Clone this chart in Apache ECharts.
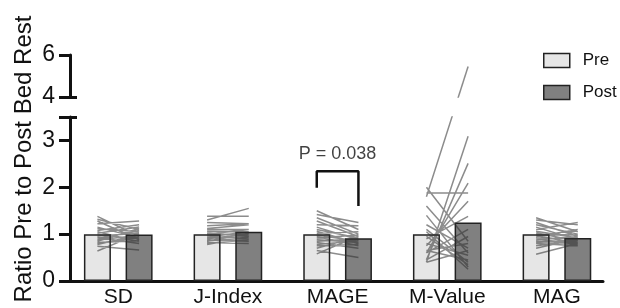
<!DOCTYPE html>
<html><head><meta charset="utf-8">
<script src="https://cdn.jsdelivr.net/npm/echarts@6/dist/echarts.min.js"></script>
<style>html,body{margin:0;padding:0;background:#fff}#c{width:620px;height:308px}</style>
</head><body><div id="c"></div>
<script>
// ---------- data ----------
const categories = ['SD', 'J-Index', 'MAGE', 'M-Value', 'MAG'];
const seriesNames = ['Pre', 'Post'];
const barPre  = [1.00, 1.00, 1.00, 1.00, 1.00];
const barPost = [0.99, 1.05, 0.91, 1.25, 0.92];

const sdPre    = [1.38, 1.32, 1.28, 1.22, 1.15, 1.12, 1.08, 1.05, 1.02, 0.98, 0.96, 0.93, 0.90, 0.88, 0.85, 0.82, 0.80, 0.78, 0.74, 0.64];
const sdPost   = [0.95, 1.10, 0.88, 1.28, 0.92, 1.05, 1.20, 0.84, 1.15, 0.90, 1.02, 0.80, 1.08, 0.97, 1.12, 0.86, 0.94, 0.99, 0.66, 1.01];
const jPre     = [1.38, 1.30, 1.25, 1.18, 1.12, 1.10, 1.06, 1.03, 1.00, 0.98, 0.96, 0.94, 0.92, 0.90, 0.88, 0.86, 0.85, 0.82, 0.80, 0.78];
const jPost    = [1.38, 1.55, 1.22, 1.22, 1.20, 1.10, 1.05, 0.95, 1.10, 1.00, 0.90, 1.05, 0.98, 1.00, 0.85, 0.92, 1.02, 0.80, 0.88, 0.95];
const magePre  = [1.50, 1.42, 1.35, 1.28, 1.20, 1.15, 1.10, 1.06, 1.02, 0.98, 0.95, 0.92, 0.88, 0.85, 0.82, 0.78, 0.75, 0.70, 0.65, 0.58];
const magePost = [1.10, 1.25, 1.00, 0.95, 1.18, 0.88, 0.92, 0.80, 1.05, 0.85, 0.75, 0.98, 0.82, 0.90, 0.70, 0.86, 0.78, 0.95, 0.50, 0.96];
const mPre     = [1.80, 0.40, 0.45, 1.88, 2.00, 0.60, 1.60, 0.75, 1.10, 0.90, 0.60, 1.40, 0.45, 0.80, 1.20, 0.65, 0.65, 0.95, 1.05, 0.40];
const mPost    = [5.45, 3.09, 2.51, 1.88, 0.85, 2.09, 0.60, 1.70, 0.40, 1.38, 1.10, 0.30, 0.95, 0.55, 0.70, 0.45, 0.80, 0.35, 0.25, 0.65];
const magPre   = [1.35, 1.30, 1.25, 1.20, 1.15, 1.10, 1.06, 1.03, 1.00, 0.97, 0.95, 0.92, 0.90, 0.88, 0.85, 0.82, 0.80, 0.75, 0.70, 0.57];
const magPost  = [1.05, 1.20, 0.95, 1.00, 0.88, 1.25, 0.92, 0.85, 0.98, 0.80, 1.10, 0.90, 0.78, 0.95, 0.82, 0.88, 0.75, 0.86, 0.90, 0.80];
const subjPre  = [sdPre, jPre, magePre, mPre, magPre];
const subjPost = [sdPost, jPost, magePost, mPost, magPost];

const lowerTicks = [0, 1, 2, 3];
const upperTicks = [4, 6];
const lowerRange = [0, 3.5];
const upperRange = [4, 6];

const pCategory = 2;
const pLabel = 'P = 0.038';
const pBracketTop = 2.34, pBracketLeft = 1.99, pBracketRight = 1.60, pLabelY = 2.71;

// ---------- layout ----------
const OFF = 0.19;              // half distance between pre/post bars (category units)
const X_MIN = -0.44, X_MAX = 4.42;
const AX = '#111';
const FONT = 'Liberation Sans, Arial, Helvetica, sans-serif';
const LINE_COLOR = 'rgba(45,45,45,0.55)';

const chart = echarts.init(document.getElementById('c'), null, {renderer: 'canvas'});

const xBase = {type: 'value', min: X_MIN, max: X_MAX};
const option = {
  animation: false,
  backgroundColor: '#fff',
  grid: [
    {left: 70, right: 17, top: 117, bottom: 26},
    {left: 70, right: 17, top: 55, height: 42}
  ],
  xAxis: [
    Object.assign({}, xBase, {gridIndex: 0, position: 'bottom',
      axisLine: {show: true, onZero: false, lineStyle: {color: AX, width: 3}},
      axisTick: {show: false}, splitLine: {show: false},
      axisLabel: {customValues: [0, 1, 2, 3, 4], formatter: v => categories[Math.round(v)],
        fontSize: 21, color: '#111', fontFamily: FONT, margin: 6}}),
    Object.assign({}, xBase, {gridIndex: 1, show: false})
  ],
  yAxis: [
    {type: 'value', gridIndex: 0, min: lowerRange[0], max: lowerRange[1], position: 'left',
      axisLine: {show: true, onZero: false, lineStyle: {color: AX, width: 3}},
      axisTick: {show: true, length: 11, customValues: lowerTicks.concat([lowerRange[1]]), lineStyle: {color: AX, width: 3}},
      axisLabel: {customValues: lowerTicks, fontSize: 23, color: '#111', fontFamily: FONT, margin: 15},
      splitLine: {show: false}},
    {type: 'value', gridIndex: 0, min: lowerRange[0], max: lowerRange[1], position: 'left',
      axisLine: {show: false, onZero: false},
      axisTick: {show: true, inside: true, length: 7, customValues: [lowerRange[1]], lineStyle: {color: AX, width: 3}},
      axisLabel: {show: false}, splitLine: {show: false}},
    {type: 'value', gridIndex: 1, min: upperRange[0], max: upperRange[1], position: 'left',
      axisLine: {show: true, onZero: false, lineStyle: {color: AX, width: 3}},
      axisTick: {show: true, length: 11, customValues: upperTicks, lineStyle: {color: AX, width: 3}},
      axisLabel: {customValues: upperTicks, fontSize: 23, color: '#111', fontFamily: FONT, margin: 15},
      splitLine: {show: false}},
    {type: 'value', gridIndex: 1, min: upperRange[0], max: upperRange[1], position: 'left',
      axisLine: {show: false, onZero: false},
      axisTick: {show: true, inside: true, length: 7, customValues: [upperRange[0]], lineStyle: {color: AX, width: 3}},
      axisLabel: {show: false}, splitLine: {show: false}}
  ],
  legend: {
    orient: 'vertical', left: 543, top: 52, padding: 0, itemWidth: 26, itemHeight: 14, itemGap: 15,
    icon: 'rect',
    textStyle: {fontSize: 17, color: '#111', fontFamily: FONT, padding: [0, 0, 0, 8]},
    data: seriesNames.map(n => ({name: n, itemStyle: {borderColor: '#222', borderWidth: 1.5}}))
  },
  graphic: [{
    type: 'text', x: 24, y: 159, rotation: Math.PI / 2,
    style: {text: 'Ratio Pre to Post Bed Rest', font: '24px ' + FONT, fill: '#111',
      textAlign: 'center', textVerticalAlign: 'middle'}
  }],
  series: [
    {name: seriesNames[0], type: 'bar', xAxisIndex: 0, yAxisIndex: 0, barWidth: 27, barGap: '-100%',
      data: barPre.map((v, i) => [i - OFF, v]),
      itemStyle: {color: '#e6e6e6', borderColor: '#222', borderWidth: 1.5}, z: 2},
    {name: seriesNames[1], type: 'bar', xAxisIndex: 0, yAxisIndex: 0, barWidth: 27, barGap: '-100%',
      data: barPost.map((v, i) => [i + OFF, v]),
      itemStyle: {color: '#808080', borderColor: '#222', borderWidth: 1.5}, z: 2}
  ]
};
chart.setOption(option);

// map values across the broken axis, using the library's own scales
function pxY(v) {
  if (v <= lowerRange[1]) return chart.convertToPixel({xAxisIndex: 0, yAxisIndex: 0}, [0, v])[1];
  return chart.convertToPixel({xAxisIndex: 1, yAxisIndex: 2}, [0, v])[1];
}
function inLower(v) { return chart.convertFromPixel({xAxisIndex: 0, yAxisIndex: 0}, [100, pxY(v)])[1]; }
function inUpper(v) { return chart.convertFromPixel({xAxisIndex: 1, yAxisIndex: 2}, [100, pxY(v)])[1]; }

const extra = [];
categories.forEach((c, i) => {
  const low = [], up = [];
  subjPre[i].forEach((p, k) => {
    const q = subjPost[i][k];
    low.push([i - OFF, inLower(p)], [i + OFF, inLower(q)], ['-', '-']);
    if (Math.max(p, q) > lowerRange[1]) up.push([i - OFF, inUpper(p)], [i + OFF, inUpper(q)], ['-', '-']);
  });
  extra.push({type: 'line', xAxisIndex: 0, yAxisIndex: 0, data: low, showSymbol: false, symbol: 'none',
    connectNulls: false, clip: true, lineStyle: {color: LINE_COLOR, width: 1.5}, z: 3, silent: true});
  if (up.length) extra.push({type: 'line', xAxisIndex: 1, yAxisIndex: 2, data: up, showSymbol: false, symbol: 'none',
    connectNulls: false, clip: true, lineStyle: {color: LINE_COLOR, width: 1.5}, z: 3, silent: true});
});
extra.push({type: 'line', xAxisIndex: 0, yAxisIndex: 0, symbol: 'none', z: 4,
  data: [[pCategory - OFF, pBracketLeft], [pCategory - OFF, pBracketTop], [pCategory + OFF, pBracketTop], [pCategory + OFF, pBracketRight]],
  lineStyle: {color: AX, width: 2.5}});
extra.push({type: 'scatter', xAxisIndex: 0, yAxisIndex: 0, symbolSize: 1, z: 4,
  itemStyle: {color: 'rgba(0,0,0,0)'}, data: [[pCategory, pLabelY]],
  label: {show: true, position: 'inside', formatter: pLabel, fontSize: 18, color: '#111', fontFamily: FONT}});

chart.setOption({series: option.series.concat(extra)});
</script></body></html>
